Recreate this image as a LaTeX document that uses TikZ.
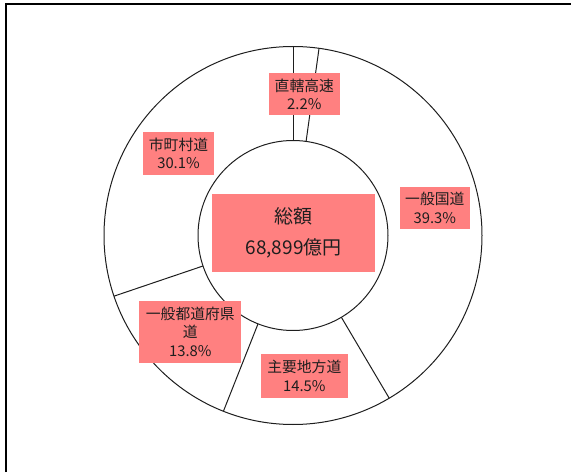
\documentclass[tikz,border=0pt]{standalone}
\usepackage{fontspec}
\setmainfont{Noto Sans CJK JP}
\usetikzlibrary{calc}
\definecolor{salmon}{RGB}{255,128,128}
\definecolor{ink}{RGB}{30,30,30}

\tikzset{
  ring/.style={ink, line width=1pt},
  lbl/.style={fill=salmon, text=ink, align=center, inner sep=0pt, font=\fontsize{14.8}{18.5}\selectfont},
}

\begin{document}
\begin{tikzpicture}[x=1pt,y=1pt]
  \useasboundingbox (0,0) rectangle (571,472);
  \draw[line width=1.3pt] (6,0) -- (6,468) -- (571,468);
  % ring and the borders between the shares
  \coordinate (c) at (293,236.5);
  \draw[ring] (c) circle [radius=189];
  \draw[ring] (c) circle [radius=95];
  \foreach \a in {90,82.08,-59.4,-111.6,-161.28}
    \draw[ring] ($(c)+(\a:95)$) -- ($(c)+(\a:189)$);
  % labels
  \node[lbl, minimum width=71.5, minimum height=42] (kosoku) at (304.3,377.8) {直轄高速\\2.2\%};
  \node[lbl, minimum width=71, minimum height=43] (shichoson) at (178.5,318.8) {市町村道\\30.1\%};
  \node[lbl, minimum width=70.5, minimum height=42.5] (kokudo) at (434.8,264) {一般国道\\39.3\%};
  \node[lbl, minimum width=102, minimum height=62] (todofuken) at (190.3,140.3) {一般都道府県\\道\\13.8\%};
  \node[lbl, minimum width=87.3, minimum height=43.4] (chiho) at (304.3,96) {主要地方道\\14.5\%};
  \node[lbl, minimum width=162.4, minimum height=77.7, font=\fontsize{19}{31}\selectfont] (sogaku) at (293.6,239.2) {総額\\68,899億円};
\end{tikzpicture}
\end{document}
